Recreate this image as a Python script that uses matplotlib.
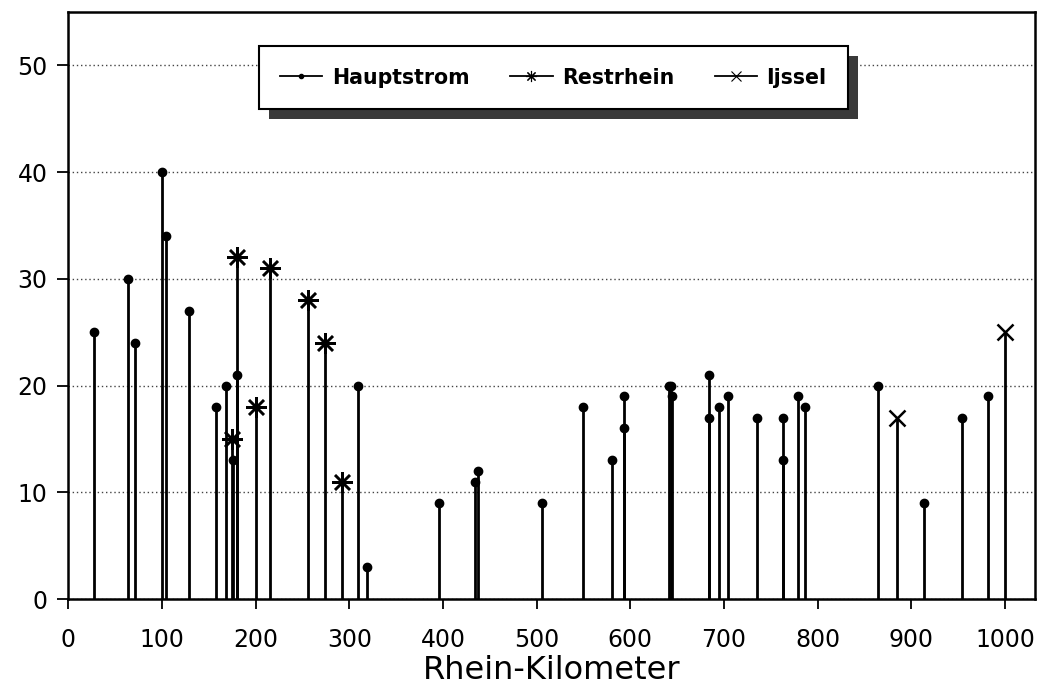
import matplotlib
matplotlib.use("Agg")
import matplotlib.pyplot as plt
from matplotlib.lines import Line2D
from matplotlib.patches import Rectangle

# Hauptstrom (main stream), km and value
haupt_km = [28, 64, 71, 100, 104, 129, 158, 168, 176, 180, 309, 319,
            396, 434, 437, 506, 550, 581, 593, 593, 641, 643, 644,
            684, 684, 695, 704, 735, 763, 763, 779, 787, 864, 914, 954, 982]
haupt_val = [25, 30, 24, 40, 34, 27, 18, 20, 13, 21, 20, 3,
             9, 11, 12, 9, 18, 13, 19, 16, 20, 20, 19,
             21, 17, 18, 19, 17, 17, 13, 19, 18, 20, 9, 17, 19]

# Restrhein
rest_km = [175, 180, 200, 215, 256, 274, 292]
rest_val = [15, 32, 18, 31, 28, 24, 11]

# Ijssel
ijssel_km = [885, 1000]
ijssel_val = [17, 25]

xticks = list(range(0, 1001, 100))
yticks = [0, 10, 20, 30, 40, 50]

fig = plt.figure(figsize=(10.47, 6.91), dpi=100)
ax = fig.add_axes([0.0652, 0.1331, 0.9233, 0.8495])

# stems
ax.vlines(haupt_km, 0, haupt_val, color="k", lw=2.0, zorder=3)
ax.vlines(rest_km, 0, rest_val, color="k", lw=2.0, zorder=3)
ax.vlines(ijssel_km, 0, ijssel_val, color="k", lw=2.0, zorder=3)

ax.plot(haupt_km, haupt_val, "o", color="k", ms=6, ls="none", zorder=4)
ax.plot(rest_km, rest_val, marker=(8, 2, 0), color="k", ms=15, mew=1.8, ls="none", zorder=4)
ax.plot(ijssel_km, ijssel_val, "x", color="k", ms=12, mew=1.8, ls="none", zorder=4)

ax.set_xlim(0, 1032)
ax.set_ylim(0, 55)
ax.set_xticks(xticks)
ax.set_yticks(yticks)
ax.yaxis.grid(True, color="#444444", ls=(0, (1, 2)), lw=1.0)
ax.set_axisbelow(True)

for s in ax.spines.values():
    s.set_linewidth(1.8)
    s.set_color("k")

ax.tick_params(axis="x", direction="out", length=7, width=1.3, pad=14, labelsize=17)
ax.tick_params(axis="y", direction="out", length=8, width=1.3, pad=7, labelsize=17)
ax.set_xlabel("Rhein-Kilometer", fontsize=23, labelpad=2)

handles = [
    Line2D([], [], color="k", lw=1.3, marker="o", ms=3),
    Line2D([], [], color="k", lw=1.3, marker=(8, 2, 0), ms=8, mew=0.8),
    Line2D([], [], color="k", lw=1.3, marker="x", ms=7, mew=0.8),
]
leg = ax.legend(handles, ["Hauptstrom", "Restrhein", "Ijssel"],
                loc="upper left", bbox_to_anchor=(0.197, 0.942),
                borderaxespad=0, ncol=3, frameon=True, fancybox=False,
                framealpha=1, edgecolor="k", handlelength=2.05,
                handletextpad=0.45, columnspacing=2.0, borderpad=1.05,
                prop={"family": "DejaVu Sans", "weight": "bold", "size": 14.8})
leg.get_frame().set_linewidth(1.5)
leg.set_zorder(6)

# shadow behind legend
fig.canvas.draw()
bb = leg.get_window_extent()
inv = ax.transAxes.inverted()
(x0, y0) = inv.transform((bb.x0 + 10, bb.y0 - 10))
(x1, y1) = inv.transform((bb.x1 + 10, bb.y1 - 10))
ax.add_patch(Rectangle((x0, y0), x1 - x0, y1 - y0, transform=ax.transAxes,
                       facecolor="#3a3a3a", edgecolor="none", zorder=5, clip_on=False))

fig.savefig("out.png", dpi=100)
